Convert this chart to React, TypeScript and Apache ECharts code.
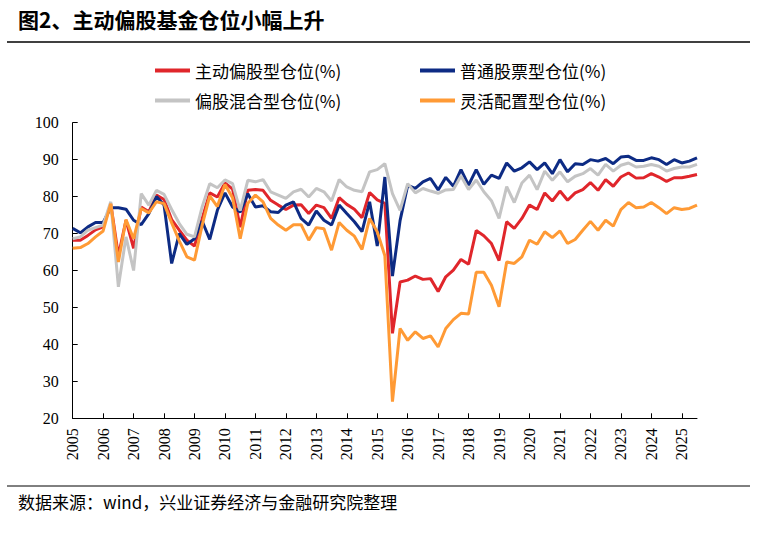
import React, { useEffect, useRef } from "react";
import * as echarts from "echarts";

const years = ["2005","2006","2007","2008","2009","2010","2011","2012","2013","2014","2015","2016","2017","2018","2019","2020","2021","2022","2023","2024","2025"];
const quarters = ["Q1", "Q2", "Q3", "Q4"];

const activeEquity = [
  68.2, 68.2, 69.5, 71, 71.8, 78.1, 64, 73.6, 66, 77.2, 75.9, 80.4, 79.2,
  73.8, 70.9, 68.2, 66.6, 74, 81, 79.9, 83.7, 82, 71.7, 81.7, 81.9, 81.7,
  79, 77.7, 76.5, 77.7, 77.8, 75.4, 77.7, 77, 74.1, 79.7, 77.9, 76.6, 74.3,
  81.1, 79.1, 78.2, 43, 56.9, 57.4, 58.5, 57.6, 57.8, 54.3, 58.3, 60.1, 63,
  61.7, 70.8, 69.4, 67.3, 62.7, 73.2, 71.4, 74.1, 77.7, 76.5, 81, 78.8, 81.5,
  79, 81, 81.9, 83.8, 81.7, 84.6, 82.8, 85.3, 86.4, 85, 85.1, 86.2, 85.3,
  84.1, 85.1, 85.1, 85.5, 86
];
const stockFund = [
  71.4, 70.2, 71.8, 73, 73, 77, 77, 76.6, 73.6, 72.4, 75.4, 80, 77.7, 61.9,
  70, 67.1, 68.6, 73.4, 68.4, 76.3, 81, 77.2, 75.8, 80.8, 77.2, 77.5, 75.9,
  75.7, 77.7, 78.6, 74.1, 72.3, 76.1, 73.6, 72.3, 77.7, 75.4, 73.2, 70.5,
  78.6, 66.6, 85.3, 58.5, 73.5, 83, 82.2, 84, 84.9, 81.8, 85.2, 82.8, 87.3,
  83.1, 87.3, 83.3, 85.8, 84.9, 89.1, 86.9, 87.8, 89.4, 87.3, 89.1, 86.2, 90,
  86.7, 88.9, 88.7, 90, 89.6, 90.3, 88.9, 90.7, 90.9, 89.8, 89.8, 90.5, 90,
  88.7, 90, 89.1, 89.6, 90.5
];
const hybridEquity = [
  68.6, 69.1, 70.9, 71.6, 72.3, 78.6, 55.6, 69.1, 60, 80.8, 77.7, 81.7, 80.6,
  76.5, 72.7, 69.8, 69.1, 77.2, 83.5, 82.4, 84.5, 83.5, 76.2, 84.4, 84, 84.6,
  81.3, 80.4, 79.5, 81.3, 82, 79.9, 82.2, 81.3, 78.8, 84.6, 82.6, 81.7, 81.3,
  86.7, 87.3, 88.9, 80.8, 76.3, 83.5, 81, 82.2, 81.5, 80.9, 81.8, 81.9, 85.6,
  81.9, 84.5, 81.3, 78.9, 74.1, 82.7, 78.4, 83.7, 85.8, 81.9, 86.9, 84.4, 86.7,
  84, 85.5, 86.2, 87.6, 85.8, 88.7, 86.9, 88.5, 89.1, 88, 88.2, 88.7, 88.2,
  86.9, 87.6, 88, 88, 88.7
];
const flexible = [
  66, 66.2, 67.3, 69.1, 70.7, 78.1, 62.3, 73.8, 68.6, 76.8, 75.6, 78.6, 78.1,
  72.9, 68, 63.7, 62.8, 72.2, 80.2, 77.3, 83.3, 79.7, 68.6, 78.2, 80.4, 78.6,
  74.1, 72.3, 70.9, 72.4, 72.4, 68.2, 71.6, 71.3, 65.5, 73, 70.9, 69.3, 65.7,
  74.1, 70.5, 64, 24.5, 44.3, 41.1, 43.4, 41.6, 42.3, 39.3, 44.3, 46.7, 48.4,
  48.2, 59.5, 59.5, 56, 50.2, 62.3, 61.9, 63.7, 68.2, 67.1, 70.5, 68.9, 70.7,
  67.3, 68.4, 70.9, 73.3, 70.9, 73.6, 72, 76.5, 78.4, 77, 77.2, 78.4, 77,
  75.4, 77, 76.5, 76.8, 77.7
];

const seriesNames = ["主动偏股型仓位(%)", "普通股票型仓位(%)", "偏股混合型仓位(%)", "灵活配置型仓位(%)"];
const seriesColors = ["#E0262B", "#0D2B84", "#C4C4C4", "#FF9A35"];

const categories: string[] = [];
years.forEach((y) => quarters.forEach((q) => categories.push(y + q)));
const cats = categories.slice(0, activeEquity.length);

export default function App() {
  const ref = useRef<HTMLDivElement>(null);
  useEffect(() => {
    document.body.style.margin = "0";
    if (!ref.current) return;
    const chart = echarts.init(ref.current, null, { renderer: "svg" });
    const serif = "'Liberation Serif', 'Times New Roman', serif";
    const cjk = "'Noto Sans CJK SC', 'Noto Sans', sans-serif";
    const dataSets = [activeEquity, stockFund, hybridEquity, flexible];
    const legendCommon = {
      orient: "vertical",
      icon: "rect",
      itemWidth: 35,
      itemHeight: 4,
      itemGap: 9,
      top: 55,
      padding: 5,
      textStyle: { fontFamily: cjk, fontSize: 17, color: "#000", lineHeight: 21 },
    };
    chart.setOption({
      animation: false,
      backgroundColor: "#fff",
      textStyle: { fontFamily: cjk },
      legend: [
        { ...legendCommon, left: 150, data: [seriesNames[0], seriesNames[2]] },
        { ...legendCommon, left: 415, data: [seriesNames[1], seriesNames[3]] },
      ],
      grid: { left: 72.7, right: 60, top: 122.7, bottom: 114.7 },
      xAxis: {
        type: "category",
        data: cats,
        boundaryGap: false,
        axisLine: { lineStyle: { color: "#000", width: 1 } },
        axisTick: {
          inside: true,
          length: 5,
          interval: (i: number) => i % 4 === 0,
          lineStyle: { color: "#000" },
        },
        axisLabel: {
          interval: (i: number) => i % 4 === 0,
          rotate: 90,
          formatter: (v: string) => v.slice(0, 4),
          fontFamily: serif,
          fontSize: 16,
          color: "#000",
          margin: 10,
        },
        splitLine: { show: false },
      },
      yAxis: {
        type: "value",
        min: 20,
        max: 100,
        interval: 10,
        axisLine: { show: true, lineStyle: { color: "#000", width: 1 } },
        axisTick: { show: true, inside: true, length: 5, lineStyle: { color: "#000" } },
        axisLabel: { fontFamily: serif, fontSize: 16, color: "#000", margin: 14 },
        splitLine: { show: false },
      },
      series: seriesNames.map((name, k) => ({
        name,
        type: "line",
        data: dataSets[k],
        showSymbol: false,
        symbol: "none",
        color: seriesColors[k],
        lineStyle: { width: 3, color: seriesColors[k] },
      })),
      graphic: [
        {
          type: "text",
          left: 18,
          top: 8,
          style: { text: "图2、主动偏股基金仓位小幅上升", font: "bold 21px " + cjk, fill: "#000" },
        },
        {
          type: "line",
          shape: { x1: 7, y1: 42, x2: 750, y2: 42 },
          style: { stroke: "#000", lineWidth: 1.5 },
        },
        {
          type: "line",
          shape: { x1: 7, y1: 486, x2: 750, y2: 486 },
          style: { stroke: "#000", lineWidth: 1 },
        },
        {
          type: "text",
          left: 18,
          top: 493,
          style: { text: "数据来源：wind，兴业证券经济与金融研究院整理", font: "17px " + cjk, fill: "#000" },
        },
      ],
    });
    return () => chart.dispose();
  }, []);
  return <div ref={ref} style={{ width: 757, height: 533 }} />;
}
